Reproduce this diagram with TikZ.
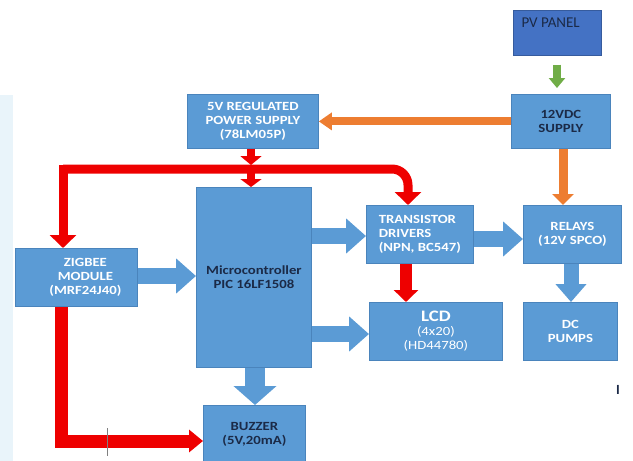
\documentclass[tikz,border=0pt]{standalone}
\usepackage{fontspec}
\setmainfont{Carlito}
\newfontfamily\boxfont[FakeStretch=1.18]{Carlito}
\usetikzlibrary{arrows.meta}
\definecolor{boxblue}{HTML}{5B9BD5}
\definecolor{boxedge}{HTML}{4A84BC}
\definecolor{pvblue}{HTML}{4472C4}
\definecolor{navy}{HTML}{1B2A47}
\definecolor{arrred}{HTML}{EE0000}
\definecolor{arrorange}{HTML}{ED7D31}
\definecolor{arrgreen}{HTML}{70AD47}
\definecolor{paleband}{HTML}{E9F4FA}
\tikzset{
  blk/.style={draw=boxedge, line width=0.8pt, fill=boxblue, inner sep=0pt, anchor=north west,
    font=\boxfont\bfseries\fontsize{12.5}{13.8}\selectfont, align=center, text=white},
  darktext/.style={text=navy},
  barrow/.style={draw=boxblue, line width=16pt, -{Triangle[width=34pt,length=20pt]}},
  redthin/.style={draw=arrred, line width=9pt, -{Triangle[width=26pt,length=13pt]}},
  redthick/.style={draw=arrred, line width=13pt, -{Triangle[width=22pt,length=14pt]}},
  orarrow/.style={draw=arrorange, line width=8pt, -{Triangle[width=17pt,length=13pt]}},
  grarrow/.style={draw=arrgreen, line width=8pt, -{Triangle[width=16pt,length=10pt]}},
}
\begin{document}
\begin{tikzpicture}[x=1pt,y=-1pt]
\useasboundingbox (0,0) rectangle (633,461);
\fill[paleband] (0,95) rectangle (13,461);
% boxes
\node[draw=pvblue!80!black, line width=0.6pt, fill=pvblue, minimum width=88pt, minimum height=45pt, anchor=north west] (pv) at (513,10) {};
\node[anchor=west, text=navy, font=\fontsize{15}{16}\selectfont] (pvt) at (518,23) {PV PANEL};
\node[blk, darktext, minimum width=99pt, minimum height=54pt] (sup) at (511,94) {12VDC\\SUPPLY};
\node[blk, minimum width=131pt, minimum height=54pt] (reg) at (187,94) {5V REGULATED\\POWER SUPPLY\\(78LM05P)};
\node[blk, darktext, minimum width=115pt, minimum height=180pt] (mcu) at (196,187) {Microcontroller\\PIC 16LF1508};
\node[blk, minimum width=122pt, minimum height=58pt, text width=122pt] (zig) at (15,248) {\hspace*{18pt}ZIGBEE\\\hspace*{18pt}MODULE\\\hspace*{18pt}(MRF24J40)};
\node[blk, minimum width=107pt, minimum height=58pt, align=left] (trn) at (366,205) {TRANSISTOR\\DRIVERS\\(NPN, BC547)};
\node[blk, minimum width=98pt, minimum height=58pt] (rel) at (523,205) {RELAYS\\(12V SPCO)};
\node[blk, minimum width=133pt, minimum height=58pt] (lcd) at (369,302) {{\fontsize{16}{17}\selectfont LCD}\\{\mdseries(4x20)}\\{\mdseries(HD44780)}};
\node[blk, minimum width=94pt, minimum height=58pt] (dc) at (523,302) {DC\\PUMPS};
\node[blk, darktext, minimum width=102pt, minimum height=58pt] (buz) at (203,405) {BUZZER\\(5V,20mA)};
\node[font=\bfseries\fontsize{14}{16}\selectfont, text=navy] (bar) at (618,390) {I};
% coordinates
\coordinate (bl) at (63,169);
\coordinate (br) at (408,169);
\coordinate (bc) at (61,441);
% blue arrows
\draw[barrow] (zig.east |- 0,276) -- (mcu.west |- 0,276);
\draw[barrow] (mcu.east |- 0,236) -- (trn.west |- 0,236);
\draw[barrow] (trn.east |- 0,239) -- (rel.west |- 0,239);
\draw[barrow] (mcu.east |- 0,334) -- (lcd.west |- 0,334);
\draw[barrow, line width=20pt, -{Triangle[width=42pt,length=19pt]}] (mcu.south -| 255,0) -- (buz.north -| 255,0);
\draw[barrow, line width=15pt, -{Triangle[width=30pt,length=18pt]}] (rel.south -| 571,0) -- (dc.north -| 571,0);
% orange and green
\draw[orarrow] (sup.west) -- (sup.west -| reg.east);
\draw[orarrow, line width=9pt, -{Triangle[width=21pt,length=11pt]}] (sup.south -| 563,0) -- (rel.north -| 563,0);
\draw[grarrow, shorten <=9pt, shorten >=6pt] (pv.south -| 557,0) -- (sup.north -| 557,0);
% red arrows
\draw[redthin, line width=8pt, -{Triangle[width=21pt,length=9pt]}] (reg.south -| 251,0) -- ([yshift=4pt]bl -| 251,0);
\draw[redthin, line width=8pt, -{Triangle[width=21pt,length=8pt]}] ([yshift=-4pt]bl -| 251,0) -- (mcu.north -| 251,0);
\draw[redthin, line cap=rect] (bl) -- (bl |- zig.north);
\draw[redthin, rounded corners=16pt] (bl) -- (br) -- (br |- trn.north);
\draw[redthin, line width=12pt, -{Triangle[width=24pt,length=12pt]}] (trn.south -| 406,0) -- (lcd.north -| 406,0);
\draw[redthick] (bc |- zig.south) -- (bc) -- (bc -| buz.west);
\draw[gray, line width=0.6pt] (107,428) -- (107,456);
\end{tikzpicture}
\end{document}
